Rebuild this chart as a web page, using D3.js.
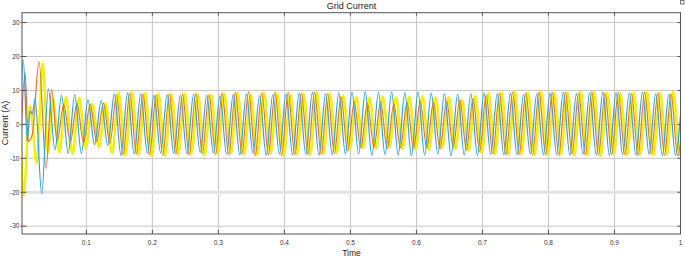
<!DOCTYPE html>
<html>
<head>
<meta charset="utf-8">
<script src="https://cdn.jsdelivr.net/npm/d3@7"></script>
<style>
  body { margin: 0; background: #fff; }
  svg { display: block; font-family: "Liberation Sans", Arial, sans-serif; }
</style>
</head>
<body>
<div id="graphicContainer"></div>
<script>
// start-up transient, extrema as [time, current]
var blueTransient = [[0, 5], [0.0045, 19], [0.0105, -5], [0.0147, 4], [0.018, 3], [0.0224, 7.5], [0.0324, -20.5], [0.0424, 10.5], [0.0524, -7.5]]
var yellowTransient = [[0, -2], [0.0048, -21], [0.0147, 5.5], [0.025, -11.5], [0.034, 18], [0.042, -8.5]]
var orangeTransient = [[0, -8], [0.0072, 15.2], [0.012, -5], [0.018, -3], [0.0283, 18.5], [0.039, -13], [0.0474, 10.3]]

// after the transient: one extremum every half cycle (50 Hz)
var halfCycle = 0.01
var blueStart = 0.0624
var yellowStart = 0.0491
var orangeStart = 0.0557

var blueValues = [
  8.5, -8.5, 8.8, -8.6,
  7.2, -6.0, 7.0, -6.2,
  9.0, -9.2, 9.3, -8.8, 9.0, -8.5,
  8.6, -8.4, 8.8, -8.6, 8.5, -8.7, 8.8, -8.3, 8.6, -8.5,
  8.4, -8.8, 8.7, -9.0, 8.9, -8.6, 8.5, -9.1, 8.8, -8.7,
  8.9, -9.0, 9.2, -8.8, 9.4, -9.1, 9.0, -8.9, 9.3, -8.7,
  9.5, -8.8, 9.6, -9.2, 9.4, -8.9, 9.6, -9.0, 9.3, -9.3,
  9.5, -9.1, 9.2, -8.8, 9.0, -9.3, 8.9, -9.0, 9.1, -9.2,
  9.3, -8.8, 9.0, -8.9, 9.2, -9.0, 8.8, -8.7, 9.1, -9.0,
  9.2, -8.9, 9.4, -9.1, 9.0, -8.8, 9.3, -9.0, 9.5, -9.2,
  9.3, -8.9, 9.2, -9.1, 9.4, -8.8, 9.0, -9.2, 8.9, -9.0, 9.1
]
var yellowValues = [
  7.5, -8.2, 8.0, -8.8, 7.8,
  -7.0, 6.0, -6.8, 6.2,
  -8.5, 9.3, -9.2, 9.5, -9.0, 9.2,
  -9.4, 9.0, -9.3, 8.8, -9.0, 9.1, -8.8, 8.9, -9.2, 8.7,
  -8.8, 9.0, -8.6, 9.2, -8.9, 8.8, -9.1, 9.3, -8.7, 9.0,
  -9.2, 8.8, -8.9, 9.1, -9.0, 9.3, -8.8, 9.0, -8.6, 8.4,
  -7.5, 8.0, -7.0, 7.8, -7.2, 8.2, -6.8, 7.9, -7.3, 8.1,
  -7.4, 8.3, -7.6, 7.8, -7.0, 8.0, -7.3, 7.2, -7.8, 8.4,
  -8.5, 9.2, -8.8, 9.4, -9.0, 9.6, -8.9, 9.3, -9.1, 9.5,
  -9.0, 9.2, -8.8, 9.4, -9.2, 9.5, -9.0, 9.6, -9.3, 9.2,
  -8.9, 9.1, -9.2, 9.4, -8.8, 9.5, -9.1, 9.3, -9.0, 9.6, -9.2, 9.5
]
var orangeValues = [
  -5.0, 5.8, -5.2, 6.2, -5.4,
  6.0, -5.0, 6.3, -5.5,
  8.8, -9.0, 9.2, -8.7, 9.0, -8.9,
  8.7, -9.1, 9.0, -8.8, 8.9, -9.0, 9.2, -8.6, 8.8, -8.9,
  9.3, -9.0, 9.4, -8.8, 9.6, -9.2, 9.3, -8.9, 9.5, -9.1,
  9.4, -8.9, 9.2, -9.0, 9.5, -8.8, 9.1, -8.6, 8.2, -7.8,
  6.5, -7.0, 6.2, -6.8, 6.6, -7.2, 6.0, -6.9, 6.4, -7.1,
  6.8, -7.0, 6.5, -7.3, 6.9, -6.8, 7.2, -7.5, 7.6, -8.0,
  8.6, -8.8, 9.2, -9.0, 9.5, -8.9, 9.3, -9.1, 9.6, -9.0,
  9.4, -9.2, 9.5, -8.8, 9.3, -9.0, 9.6, -9.1, 9.2, -8.9,
  9.4, -9.0, 9.1, -9.2, 9.5, -8.8, 9.3, -9.1, 9.0, -9.3, 8.8
]

var yTicks = [-30, -20, -10, 0, 10, 20, 30]
var xTicks = [0.1, 0.2, 0.3, 0.4, 0.5, 0.6, 0.7, 0.8, 0.9, 1]

function buildSeries(transient, start, values) {
  return transient.concat(values.map(function (v, i) {
    return [start + i * halfCycle, v]
  }))
}

var series = [
  { name: "yellow", color: "#f2f200", width: 2.6, points: buildSeries(yellowTransient, yellowStart, yellowValues) },
  { name: "orange", color: "#ee6b3b", width: 1.2, points: buildSeries(orangeTransient, orangeStart, orangeValues) },
  { name: "blue", color: "#2ba2e6", width: 1.2, points: buildSeries(blueTransient, blueStart, blueValues) }
]

var width = 685
var height = 257
var plotLeft = 22, plotRight = 680.5, plotTop = 12.7, plotBottom = 234

var x = d3.scaleLinear().domain([0.0025, 1]).range([plotLeft, plotRight])
var y = d3.scaleLinear().domain([-32.3, 32.9]).range([plotBottom, plotTop])

var svg = d3.select("#graphicContainer")
  .append("svg")
  .attr("width", width)
  .attr("height", height)
  .attr("viewBox", [0, 0, width, height])

svg.append("rect")
  .attr("width", width)
  .attr("height", height)
  .attr("fill", "#fff")

svg.append("clipPath")
  .attr("id", "plotClip")
  .append("rect")
  .attr("x", plotLeft)
  .attr("y", plotTop)
  .attr("width", plotRight - plotLeft)
  .attr("height", plotBottom - plotTop)

// grid
svg.append("g")
  .selectAll("line")
  .data(xTicks)
  .join("line")
  .attr("x1", d => x(d))
  .attr("x2", d => x(d))
  .attr("y1", plotTop)
  .attr("y2", plotBottom)
  .attr("stroke", "#c6c6c6")
  .attr("stroke-width", 1)

svg.append("g")
  .selectAll("line")
  .data(yTicks)
  .join("line")
  .attr("x1", plotLeft)
  .attr("x2", plotRight)
  .attr("y1", d => y(d))
  .attr("y2", d => y(d))
  .attr("stroke", d => d == -20 ? "#e2e2e2" : "#c6c6c6")
  .attr("stroke-width", d => d == -20 ? 3 : 1)

// waveforms
var line = d3.line()
  .x(d => x(d[0]))
  .y(d => y(d[1]))
  .curve(d3.curveMonotoneX)

svg.append("g")
  .attr("clip-path", "url(#plotClip)")
  .selectAll("path")
  .data(series)
  .join("path")
  .attr("d", d => line(d.points))
  .attr("fill", "none")
  .attr("stroke", d => d.color)
  .attr("stroke-width", d => d.width)
  .attr("stroke-linejoin", "round")

// frame and inward ticks
svg.append("rect")
  .attr("x", plotLeft)
  .attr("y", plotTop)
  .attr("width", plotRight - plotLeft)
  .attr("height", plotBottom - plotTop)
  .attr("fill", "none")
  .attr("stroke", "#555")
  .attr("stroke-width", 1)

var ticks = svg.append("g").attr("stroke", "#555").attr("stroke-width", 1)
yTicks.forEach(function (t) {
  ticks.append("line").attr("x1", plotLeft - 1.5).attr("x2", plotLeft + 4.5).attr("y1", y(t)).attr("y2", y(t))
  ticks.append("line").attr("x1", plotRight - 3).attr("x2", plotRight).attr("y1", y(t)).attr("y2", y(t))
})
xTicks.forEach(function (t) {
  ticks.append("line").attr("x1", x(t)).attr("x2", x(t)).attr("y1", plotBottom).attr("y2", plotBottom - 4)
  ticks.append("line").attr("x1", x(t)).attr("x2", x(t)).attr("y1", plotTop).attr("y2", plotTop + 3)
})

// labels
svg.append("g")
  .selectAll("text")
  .data(yTicks)
  .join("text")
  .attr("x", 19.5)
  .attr("y", d => y(d) + 2.3)
  .attr("text-anchor", "end")
  .attr("font-size", 6.5)
  .attr("fill", "#333")
  .text(d => d)

svg.append("g")
  .selectAll("text")
  .data(xTicks)
  .join("text")
  .attr("x", d => x(d))
  .attr("y", 245)
  .attr("text-anchor", "middle")
  .attr("font-size", 6.5)
  .attr("fill", "#333")
  .text(d => d)

svg.append("text")
  .attr("x", 351.5)
  .attr("y", 9.3)
  .attr("text-anchor", "middle")
  .attr("font-size", 9)
  .attr("fill", "#222")
  .text("Grid Current")

svg.append("text")
  .attr("x", 351.5)
  .attr("y", 256.3)
  .attr("text-anchor", "middle")
  .attr("font-size", 8.5)
  .attr("fill", "#222")
  .text("Time")

svg.append("text")
  .attr("transform", "translate(7.6,123) rotate(-90)")
  .attr("text-anchor", "middle")
  .attr("font-size", 9)
  .attr("fill", "#222")
  .text("Current (A)")

// small scope icon in the corner
svg.append("rect")
  .attr("x", 680.5)
  .attr("y", 0.5)
  .attr("width", 3.5)
  .attr("height", 3.5)
  .attr("fill", "#fff")
  .attr("stroke", "#777")
  .attr("stroke-width", 1)
</script>
</body>
</html>
